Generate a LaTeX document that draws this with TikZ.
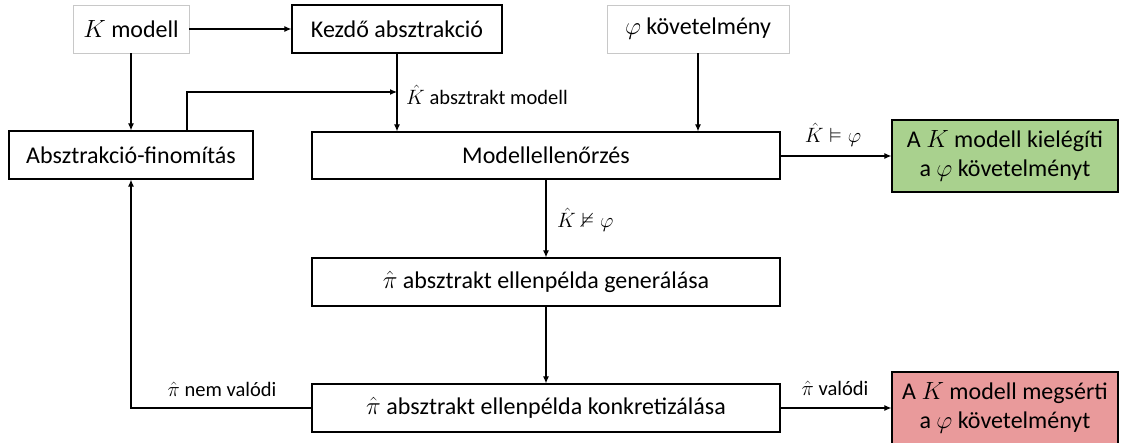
\documentclass[tikz,border=0pt]{standalone}
\usepackage{amssymb}
\usepackage{fontspec}
\setmainfont{Carlito}
\usetikzlibrary{arrows.meta}
\definecolor{okgreen}{HTML}{A9D18E}
\definecolor{badred}{HTML}{E99A9B}
\definecolor{softgray}{HTML}{C8C8C8}
\begin{document}
\begin{tikzpicture}[x=1pt,y=-1pt,
  box/.style={draw=black,line width=1.2pt,rectangle,inner sep=0pt,
    font=\fontsize{24}{29}\selectfont,align=center},
  inbox/.style={box,draw=softgray,line width=0.9pt},
  lbl/.style={font=\fontsize{20.5}{25}\selectfont,inner sep=0pt},
  arr/.style={line width=1.1pt,-{Latex[length=7pt,width=6pt]}}]
\useasboundingbox (0,0) rectangle (1131,443);

% inputs
\node[inbox,minimum width=116pt,minimum height=48pt] (kmod) at (131,29) {$K$ modell};
\node[box,minimum width=210pt,minimum height=48pt] (kezdo) at (397,29) {Kezdő absztrakció};
\node[inbox,minimum width=182pt,minimum height=48pt] (phi) at (698,29) {$\varphi$ követelmény};

% main loop
\node[box,minimum width=244pt,minimum height=48pt] (absz) at (131,155) {Absztrakció-finomítás};
\node[box,minimum width=468pt,minimum height=47pt] (modell) at (546,155.5) {Modellellenőrzés};
\node[box,minimum width=468pt,minimum height=48pt] (gen) at (546,282) {$\hat{\pi}$ absztrakt ellenpélda generálása};
\node[box,minimum width=468pt,minimum height=48pt] (konk) at (546,408) {$\hat{\pi}$ absztrakt ellenpélda konkretizálása};

% outcomes
\node[box,fill=okgreen,minimum width=226pt,minimum height=72pt] (ok) at (1005,156) {A $K$ modell kielégíti\\a $\varphi$ követelményt};
\node[box,fill=badred,minimum width=226pt,minimum height=72pt] (bad) at (1005,408) {A $K$ modell megsérti\\a $\varphi$ követelményt};

% connectors
\draw[arr] (kmod) -- (kezdo);
\draw[arr] (kmod) -- (absz);
\draw[arr] (kezdo.south) -- (kezdo.south |- modell.north);
\coordinate (fb) at (397,92);
\draw[arr] (187,131) |- (fb);
\draw[arr] (phi.south) -- (phi.south |- modell.north);
\draw[arr] (modell.east |- ok.west) -- (ok.west);
\draw[arr] (modell) -- (gen);
\draw[arr] (gen) -- (konk);
\draw[arr] (konk) -- (bad);
\draw[arr] (konk.west) -| (absz.south);

% edge labels
\node[lbl,anchor=west] (lk) at (406,95) {$\hat{K}$ absztrakt modell};
\node[lbl] (lsat) at (833,135) {$\hat{K} \vDash \varphi$};
\node[lbl,anchor=west] (lnsat) at (557,220) {$\hat{K} \nvDash \varphi$};
\node[lbl] (lfalse) at (222,389) {$\hat{\pi}$ nem valódi};
\node[lbl] (ltrue) at (835,388) {$\hat{\pi}$ valódi};
\end{tikzpicture}
\end{document}
